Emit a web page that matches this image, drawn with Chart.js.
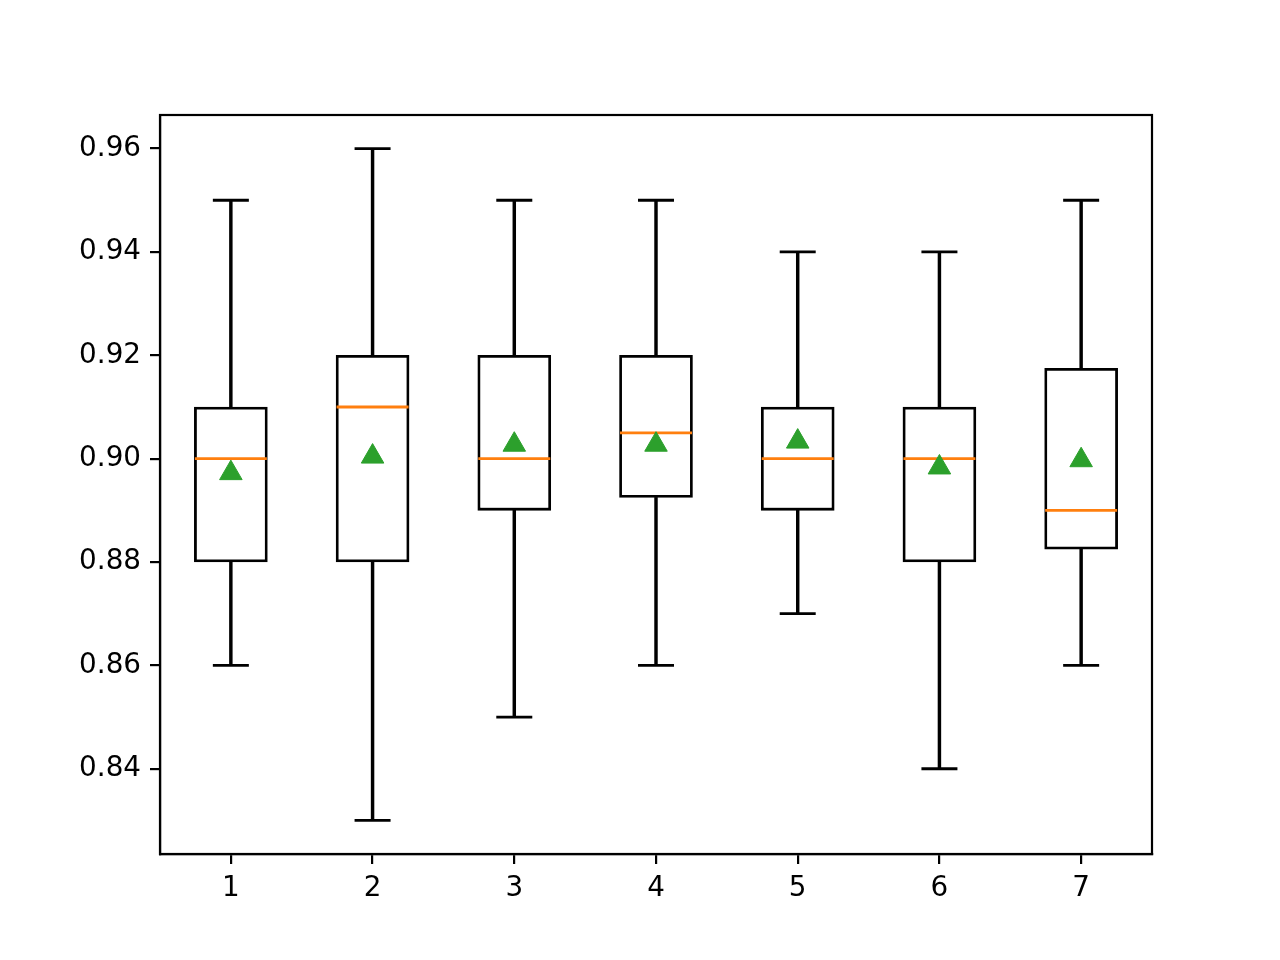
<!DOCTYPE html>
<html>
<head>
<meta charset="utf-8">
<script src="https://cdn.jsdelivr.net/npm/chart.js@4"></script>
<style>
  html, body { margin: 0; padding: 0; background: #fff; }
  #wrap { width: 1280px; height: 960px; }
</style>
</head>
<body>
<div id="wrap"><canvas id="boxChart" width="1280" height="960"></canvas></div>
<script>
// box plot values
const categories = ['1', '2', '3', '4', '5', '6', '7'];
const whiskerLow  = [0.86, 0.83, 0.85, 0.86, 0.87, 0.84, 0.86];
const quartile1   = [0.88, 0.88, 0.89, 0.8925, 0.89, 0.88, 0.8825];
const medians     = [0.90, 0.91, 0.90, 0.905, 0.90, 0.90, 0.89];
const quartile3   = [0.91, 0.92, 0.92, 0.92, 0.91, 0.91, 0.9175];
const whiskerHigh = [0.95, 0.96, 0.95, 0.95, 0.94, 0.94, 0.95];
const means       = [0.8972, 0.9004, 0.9027, 0.9027, 0.9033, 0.8983, 0.8997];
const yTicks = [0.84, 0.86, 0.88, 0.90, 0.92, 0.94, 0.96];

const FONT = { family: 'DejaVu Sans', size: 27.8 };

// frame around the plot area (matplotlib spines)
const framePlugin = {
    id: 'frame',
    afterDraw(chart) {
        const a = chart.chartArea, ctx = chart.ctx;
        ctx.save();
        ctx.strokeStyle = '#000';
        ctx.lineWidth = 2.2;
        ctx.strokeRect(a.left, a.top, a.right - a.left, a.bottom - a.top);
        ctx.restore();
    }
};

const pointSet = (data, style, radius, color, order) => ({
    type: 'line',
    data: data,
    showLine: false,
    pointStyle: style,
    pointRadius: radius,
    pointHoverRadius: radius,
    pointBorderWidth: 2.8,
    borderColor: color,
    backgroundColor: color,
    order: order
});

new Chart(document.getElementById('boxChart'), {
    type: 'bar',
    data: {
        labels: categories,
        datasets: [
            Object.assign(pointSet(means, 'triangle', 13, '#2ca02c', 0), { pointBorderWidth: 1 }),
            pointSet(medians, 'line', 36, '#ff7f0e', 1),
            {
                data: categories.map((c, i) => [quartile1[i], quartile3[i]]),
                backgroundColor: '#fff',
                borderColor: '#000',
                borderWidth: 2.8,
                borderSkipped: false,
                barThickness: 73,
                grouped: false,
                order: 2
            },
            pointSet(whiskerLow, 'line', 18, '#000', 3),
            pointSet(whiskerHigh, 'line', 18, '#000', 3),
            {
                data: categories.map((c, i) => [whiskerLow[i], quartile1[i]]),
                backgroundColor: '#000',
                borderWidth: 0,
                barThickness: 2.8,
                grouped: false,
                order: 4
            },
            {
                data: categories.map((c, i) => [quartile3[i], whiskerHigh[i]]),
                backgroundColor: '#000',
                borderWidth: 0,
                barThickness: 2.8,
                grouped: false,
                order: 4
            }
        ]
    },
    options: {
        responsive: false,
        animation: false,
        layout: { padding: { top: 115, right: 128, bottom: 0, left: 0 } },
        plugins: { legend: { display: false }, tooltip: { enabled: false } },
        scales: {
            x: {
                offset: true,
                grid: { offset: false, drawOnChartArea: false, drawTicks: true, tickLength: 10, color: '#000', lineWidth: 2.2 },
                border: { display: true, color: '#000', width: 2.2 },
                ticks: { color: '#000', font: FONT, padding: 8, maxRotation: 0 },
                afterFit(s) { s.height = 106; }
            },
            y: {
                min: 0.8235,
                max: 0.9665,
                grid: { drawOnChartArea: false, drawTicks: true, tickLength: 10, color: '#000', lineWidth: 2.2 },
                border: { display: true, color: '#000', width: 2.2 },
                ticks: { color: '#000', font: FONT, padding: 9, callback: v => v.toFixed(2) },
                afterBuildTicks(s) { s.ticks = yTicks.map(v => ({ value: v })); },
                afterFit(s) { s.width = 160; }
            }
        }
    },
    plugins: [framePlugin]
});
</script>
</body>
</html>
